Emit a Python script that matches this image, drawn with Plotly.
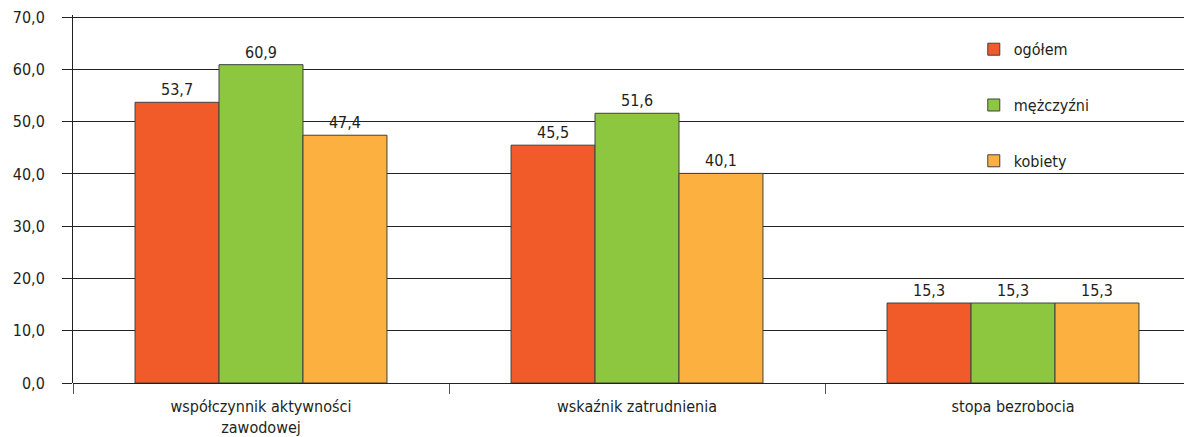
import plotly.graph_objects as go

categories = ["współczynnik aktywności<br>zawodowej", "wskaźnik zatrudnienia", "stopa bezrobocia"]
ogolem = [53.7, 45.5, 15.3]
mezczyzni = [60.9, 51.6, 15.3]
kobiety = [47.4, 40.1, 15.3]

series = [("ogółem", ogolem, "#F15A29"),
          ("mężczyźni", mezczyzni, "#8DC63F"),
          ("kobiety", kobiety, "#FBB040")]

FONT = "Liberation Sans Narrow, DejaVu Sans Condensed, Arial Narrow, sans-serif"
TXT = "#231F20"

fig = go.Figure()
for i, (name, vals, col) in enumerate(series):
    fig.add_trace(go.Bar(
        x=categories, y=vals, name=name,
        marker=dict(color=col, line=dict(color="#404040", width=1)),
        text=[f"{v:.1f}".replace(".", ",") for v in vals],
        textposition="outside", cliponaxis=False,
        textfont=dict(size=16, color=TXT, family=FONT),
        legendgroup=f"g{i}",
    ))

# page has an 8px body margin, so the figure is sized to fit the window
fig.update_layout(
    width=1184, height=429,
    margin=dict(l=65, r=0, t=7, b=54),
    plot_bgcolor="white", paper_bgcolor="white",
    font=dict(family=FONT, size=16, color=TXT),
    separators=", ",
    barmode="group", bargap=0.33, bargroupgap=0,
    showlegend=True,
    legend=dict(x=0.805, y=0.953, xanchor="left", yanchor="top",
                bgcolor="rgba(0,0,0,0)", tracegroupgap=32,
                font=dict(size=16, family=FONT, color=TXT)),
)
fig.update_xaxes(range=[-0.5, 2.476], showline=False, automargin=False,
                 ticks="outside", tickson="boundaries", ticklen=10,
                 ticklabelstandoff=12,
                 tickcolor="#555555", tickfont=dict(size=16, family=FONT, color=TXT))
fig.update_yaxes(range=[0, 70.4], dtick=10, tickformat=".1f", automargin=False,
                 ticklabeloverflow="allow",
                 showgrid=True, gridcolor="#222222", gridwidth=1,
                 showline=True, linecolor="#222222", linewidth=1,
                 ticks="outside", ticklen=10, tickcolor="#222222",
                 ticklabelstandoff=14,
                 zeroline=True, zerolinecolor="#222222", zerolinewidth=1,
                 tickfont=dict(size=16, family=FONT, color=TXT))

fig.write_html("out.html")
